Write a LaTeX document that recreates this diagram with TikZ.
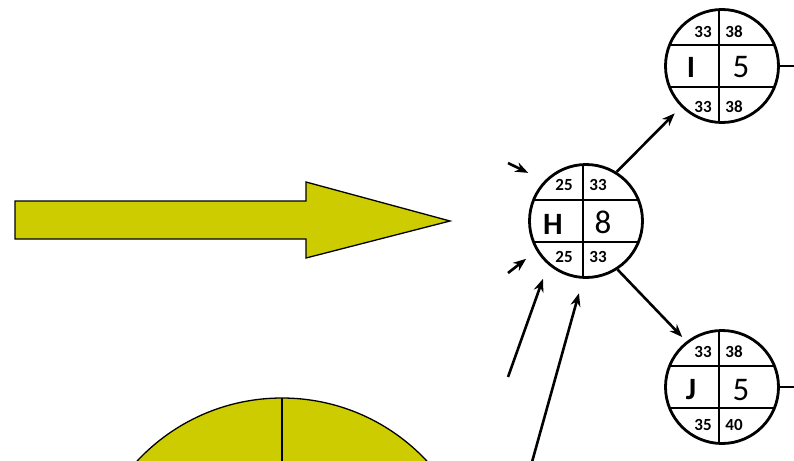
\documentclass[tikz,border=0pt]{standalone}
\usepackage{fontspec}
\setmainfont{Carlito}
\usetikzlibrary{arrows.meta,calc}
\definecolor{olivey}{RGB}{204,204,0}
\tikzset{
  cell/.style={circle, draw, line width=2.8pt, minimum size=113pt, inner sep=0pt,
    path picture={
      \draw[line width=1.4pt] ([xshift=-3pt]path picture bounding box.north) -- ([xshift=-3pt]path picture bounding box.south);
      \draw[line width=1.4pt] ([yshift=21pt]path picture bounding box.west) -- ([yshift=21pt]path picture bounding box.east);
      \draw[line width=1.4pt] ([yshift=-21pt]path picture bounding box.west) -- ([yshift=-21pt]path picture bounding box.east);
    }},
  small/.style={font=\fontsize{17}{17}\selectfont\bfseries, inner sep=0pt},
  bigl/.style={font=\fontsize{31}{31}\selectfont\bfseries, inner sep=0pt},
  bign/.style={font=\fontsize{33}{33}\selectfont, inner sep=0pt},
  arr/.style={line width=2.6pt, -{Stealth[length=13pt,width=10pt]}},
  outline/.style={line width=2.6pt},
  yel/.style={fill=olivey, draw=black, line width=1.3pt, line join=miter}
}
\begin{document}
\begin{tikzpicture}[x=1pt,y=-1pt]
\useasboundingbox (0,0) rectangle (794,460);
\clip (0,0) rectangle (794,460);
\fill[white] (0,0) rectangle (794,460);

% big yellow arrow
\draw[yel] (15,201) -- (306,201) -- (306,182) -- (450,221) -- (306,258) -- (306,239) -- (15,239) -- cycle;

% yellow circle (partly visible)
\draw[yel] (282,596) circle[radius=198];
\draw[line width=1.3pt] (282,398) -- (282,470);

% nodes
\node[cell] (H) at (586,221) {};
\node[cell] (I) at (722,66) {};
\node[cell] (J) at (722,387) {};

% H texts
\node[small] (H1) at ([shift={(-22,-36)}]H.center) {25};
\node[small] (H2) at ([shift={(12,-36)}]H.center) {33};
\node[bigl]  (H3) at ([shift={(-33,3)}]H.center) {H};
\node[bign]  (H4) at ([shift={(17,1)}]H.center) {8};
\node[small] (H5) at ([shift={(-22,36)}]H.center) {25};
\node[small] (H6) at ([shift={(12,36)}]H.center) {33};

% I texts
\node[small] (I1) at ([shift={(-19,-34)}]I.center) {33};
\node[small] (I2) at ([shift={(12,-34)}]I.center) {38};
\node[bigl]  (I3) at ([shift={(-31,1)}]I.center) {I};
\node[bign]  (I4) at ([shift={(19,1)}]I.center) {5};
\node[small] (I5) at ([shift={(-19,41)}]I.center) {33};
\node[small] (I6) at ([shift={(12,41)}]I.center) {38};

% J texts
\node[small] (J1) at ([shift={(-19,-35)}]J.center) {33};
\node[small] (J2) at ([shift={(12,-35)}]J.center) {38};
\node[bigl]  (J3) at ([shift={(-31,3)}]J.center) {J};
\node[bign]  (J4) at ([shift={(19,3)}]J.center) {5};
\node[small] (J5) at ([shift={(-19,38)}]J.center) {35};
\node[small] (J6) at ([shift={(12,38)}]J.center) {40};

% connectors between nodes
\draw[arr, shorten >=9pt] (H.58) -- (I.225);
\draw[arr, shorten >=6pt] (H.-57) -- (J.128);

% outgoing lines
\coordinate (Iout) at (800,66);
\coordinate (Jout) at (800,387);
\draw[outline] (I.east) -- (Iout);
\draw[outline] (J.east) -- (Jout);

% incoming arrows
\coordinate (a1) at (508,163);
\coordinate (a2) at (508,273);
\coordinate (a3) at (508,377);
\coordinate (a4) at (532,462);
\draw[arr, shorten >=18pt] (a1) -- (H.136);
\draw[arr, shorten >=13pt] (a2) -- (H.211);
\draw[arr, shorten >=15pt] (a3) -- (H.229);
\draw[arr, shorten >=15pt] (a4) -- (H.267);
\end{tikzpicture}
\end{document}
